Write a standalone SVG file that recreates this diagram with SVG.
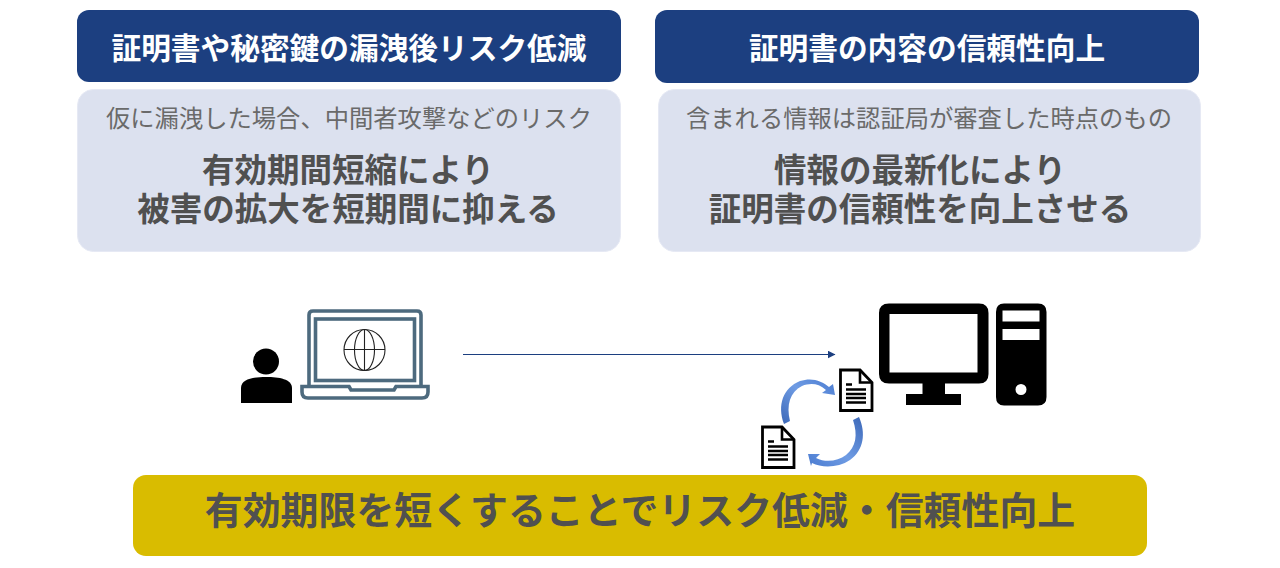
<svg xmlns="http://www.w3.org/2000/svg" width="1280" height="568" viewBox="0 0 1280 568">
<style>
text{font-family:"Noto Sans CJK JP","Noto Sans",sans-serif;text-anchor:middle}
.h{font-size:29.7px;font-weight:700;fill:#fff}
.s{font-size:24.3px;fill:#6a6a6a}
.b{font-size:32.5px;font-weight:700;fill:#505050}
.hb{fill:#1c3f80}
.pb{fill:#dce1ef;stroke:#e6e9f4;stroke-width:1}
.lap{fill:none;stroke:#4d6a7e;stroke-width:3.6}
.g{fill:none;stroke:#222;stroke-width:1.1}
.doc{fill:#fff;stroke:#000;stroke-width:2.8;stroke-linejoin:miter}
.dl{stroke:#000;stroke-width:2.3}
</style>
<defs>
<marker id="ah" markerWidth="8" markerHeight="8" refX="7.5" refY="4" orient="auto" markerUnits="userSpaceOnUse"><path d="M0 0L8 4L0 8Z" fill="#1c3f80"/></marker>
<linearGradient id="ga" x1="0" y1="1" x2="1" y2="0"><stop offset="0" stop-color="#3c68b8"/><stop offset=".55" stop-color="#6f9ce4"/><stop offset="1" stop-color="#4a7bd0"/></linearGradient>
<linearGradient id="gb" x1="1" y1="0" x2="0" y2="1"><stop offset="0" stop-color="#3c68b8"/><stop offset=".55" stop-color="#6f9ce4"/><stop offset="1" stop-color="#4a7bd0"/></linearGradient>
<g id="docicon">
<path class="doc" d="M1.500 1.500H21L33 14V42H1.500Z"/>
<path d="M21 1.500V14H33" fill="none" stroke="#000" stroke-width="2.600"/>
<path class="dl" d="M7 16H13M7 21H27M7 25.500H27M7 29.500H27M7 34H27" fill="none"/>
</g>
</defs>
<g id="panel-left">
<rect class="hb" x="77" y="10" width="544" height="72" rx="12"/>
<text class="h" x="349" y="59">証明書や秘密鍵の漏洩後リスク低減</text>
<rect class="pb" x="77.500" y="89.500" width="543" height="162" rx="16"/>
<text class="s" x="349" y="127">仮に漏洩した場合、中間者攻撃などのリスク</text>
<text class="b"><tspan x="348" y="182">有効期間短縮により</tspan><tspan x="348" y="221">被害の拡大を短期間に抑える</tspan></text>
</g>
<g id="panel-right">
<rect class="hb" x="655" y="10" width="544" height="73" rx="12"/>
<text class="h" x="927" y="59">証明書の内容の信頼性向上</text>
<rect class="pb" x="658.500" y="89.500" width="542" height="162" rx="16"/>
<text class="s" x="929" y="127">含まれる情報は認証局が審査した時点のもの</text>
<text class="b"><tspan x="920" y="182">情報の最新化により</tspan><tspan x="920" y="221">証明書の信頼性を向上させる</tspan></text>
</g>
<g id="user">
<circle cx="266" cy="361.500" r="13"/>
<path d="M241 403V388C241 379 253 377 266 377C279 377 292 379 292 388V403Z"/>
</g>
<g id="laptop">
<path class="lap" d="M309 386V315Q309 311 313 311H417Q421 311 421 315V386"/>
<rect class="lap" x="315.500" y="319" width="99" height="61.500"/>
<path class="lap" d="M349 386.500L351 390H394L396 386.500H428V392Q428 398 422 398H308Q302 398 302 392V386.500Z"/>
<circle class="g" cx="364.500" cy="350" r="20.500"/>
<ellipse class="g" cx="364.500" cy="350" rx="10" ry="20.500"/>
<path class="g" d="M364.500 329.500V370.500M344 349.500H385"/>
</g>
<g id="computer">
<path fill-rule="evenodd" d="M889 303.500H979Q988.500 303.500 988.500 313V374Q988.500 383.500 979 383.500H945V394H961V405H906V394H922.500V383.500H889Q879 383.500 879 374V313Q879 303.500 889 303.500ZM889.500 314V372.500H977.500V314Z"/>
<path fill-rule="evenodd" d="M1004 303.500H1038Q1046.500 303.500 1046.500 312V397Q1046.500 405.500 1038 405.500H1004Q996 405.500 996 397V312Q996 303.500 1004 303.500ZM1002.500 310.500V321.500H1039.500V310.500ZM1002.500 329V340H1039.500V329ZM1021 384A5.500 5.500 0 1 0 1021 395A5.500 5.500 0 1 0 1021 384Z"/>
</g>
<g id="documents">
<use href="#docicon" x="839" y="368.500"/>
<use href="#docicon" x="761" y="425.500"/>
<path fill="url(#ga)" d="M784 424C777 405 783 388 800 381C812 377 822 381 829 387L833 384L835 395L822 393L826 390C818 383 810 383 802 386C790 392 786 405 790 421Z"/>
<path fill="url(#gb)" d="M859 417C866 433 864 450 850 460C838 468 822 468 812 463L811 466L808 454L820 454L816 458C826 463 838 461 846 455C856 447 858 435 853 420Z"/>
</g>
<g id="connectors">
<line x1="463" y1="354.500" x2="835" y2="354.500" stroke="#1c3f80" stroke-width="1" marker-end="url(#ah)"/>
</g>
<g id="banner">
<rect x="133" y="475" width="1014" height="81" rx="13" fill="#d9bc00"/>
<text x="640" y="524" font-size="37.900" font-weight="700" fill="#505050">有効期限を短くすることでリスク低減・信頼性向上</text>
</g>
</svg>
